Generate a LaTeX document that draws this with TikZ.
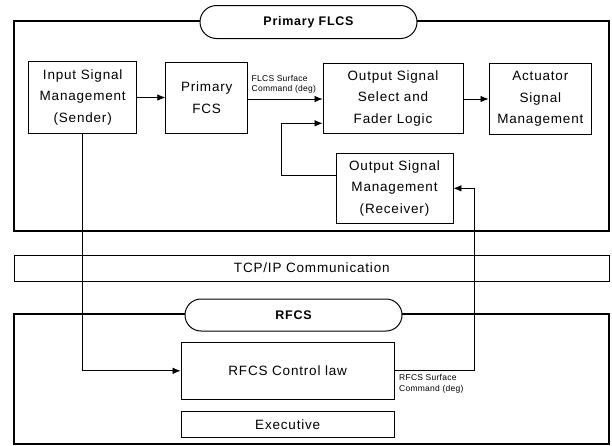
\documentclass[tikz,border=0pt]{standalone}
\usepackage{fontspec}
\setmainfont{Liberation Sans}
\newfontfamily\boxfont[LetterSpace=6]{Liberation Sans}
\newfontfamily\tagfont[LetterSpace=3]{Liberation Sans}
\usetikzlibrary{arrows.meta,shapes.misc}
\begin{document}
\begin{tikzpicture}[x=1pt,y=-1pt,
  box/.style={draw, line width=0.9pt, inner sep=0pt, align=center,
    font=\boxfont\fontsize{13.5}{21.5}\selectfont},
  frame/.style={draw, line width=1.1pt, inner sep=0pt},
  title/.style={draw, fill=white, line width=1pt, rounded rectangle,
    inner sep=0pt, minimum width=217pt, minimum height=33pt,
    font=\boxfont\bfseries\fontsize{12.5}{14}\selectfont},
  link/.style={line width=0.75pt, -{Latex[length=8pt,width=6.5pt]}},
  tag/.style={anchor=west, align=left, inner sep=0pt,
    font=\tagfont\fontsize{8.5}{10.5}\selectfont}]

\fill[white] (0,0) rectangle (612,445);
\useasboundingbox (0,0) rectangle (612,445);

% Primary FLCS frame and its title
\node[frame, minimum width=595pt, minimum height=210pt] (flcs) at (311.5,126) {};
\node[title] (flcsTitle) at (308.5,22) {Primary FLCS};

% Primary FLCS blocks
\node[box, minimum width=108pt, minimum height=71.5pt] (ism) at (82.7,97.5)
  {Input Signal\\Management\\(Sender)};
\node[box, minimum width=82pt, minimum height=70.5pt] (pfcs) at (206.7,97.8)
  {Primary\\FCS};
\node[box, minimum width=140pt, minimum height=70pt] (oss) at (393,98.2)
  {Output Signal\\Select and\\Fader Logic};
\node[box, minimum width=102.7pt, minimum height=71pt] (asm) at (540.3,98.8)
  {Actuator\\Signal\\Management};
\node[box, minimum width=117pt, minimum height=69.5pt] (osm) at (394.5,188.3)
  {Output Signal\\Management\\(Receiver)};

% Communication layer
\node[box, minimum width=594.3pt, minimum height=26pt] (tcp) at (311.8,268)
  {TCP/IP Communication};

% RFCS frame, title and blocks
\node[frame, minimum width=595pt, minimum height=130pt] (rfcs) at (311.5,379) {};
\node[title, minimum height=32pt] (rfcsTitle) at (293.5,315) {RFCS};
\node[box, minimum width=213.3pt, minimum height=56.5pt] (law) at (287.7,370.8)
  {RFCS Control law};
\node[box, minimum width=213.3pt, minimum height=25.5pt] (exec) at (287.7,424.3)
  {Executive};

% Signal labels
\node[tag] (flcsCmd) at (251.5,84.5) {FLCS Surface\\Command (deg)};
\node[tag] (rfcsCmd) at (399,384) {RFCS Surface\\Command (deg)};

% Corner points of the routed connectors
\coordinate (fb) at (281.7,123.3);
\coordinate (up) at (474,188.3);

% Connectors
\draw[link] (ism.east) -- (ism.east -| pfcs.west);
\draw[link] (pfcs.east |- 0,99) -- (oss.west |- 0,99);
\draw[link] (oss.east |- 0,99) -- (asm.west |- 0,99);
\draw[link] (osm.west |- 0,175) -| (fb) -- (oss.west |- fb);
\draw[link] (ism.south) |- (law.west);
\draw[link] (law.east) -| (up) -- (osm.east);
\end{tikzpicture}
\end{document}
